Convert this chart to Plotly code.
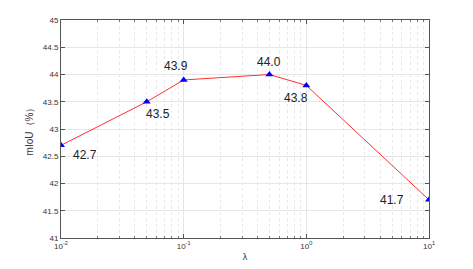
import math
import plotly.graph_objects as go

# lambda values and mIoU (%)
lam = [0.01, 0.05, 0.1, 0.5, 1, 10]
miou = [42.7, 43.5, 43.9, 44.0, 43.8, 41.7]
labels = ["42.7", "43.5", "43.9", "44.0", "43.8", "41.7"]
xtick_vals = [0.01, 0.1, 1, 10]
xtick_text = ["10<sup>-2</sup>", "10<sup>-1</sup>", "10<sup>0</sup>", "10<sup>1</sup>"]
# minor log gridlines 2..9 in each decade
minor_vals = [m * d for d in (0.01, 0.1, 1) for m in range(2, 10)]

# label offsets in px (x, y)
shifts = [(24, -10), (11, -12), (-8, 14), (0, 13), (-10, -13), (-37, 0)]

fig = go.Figure()
fig.add_trace(go.Scatter(
    x=lam, y=miou, mode="lines+markers",
    line=dict(color="#ff3030", width=1),
    marker=dict(symbol="triangle-up", size=7, color="#0000ff"),
    showlegend=False,
))

# annotations on a log axis take log10 positions
for x, y, t, (dx, dy) in zip(lam, miou, labels, shifts):
    fig.add_annotation(x=math.log10(x), y=y, xref="x", yref="y", text=t, showarrow=False,
                       xshift=dx, yshift=dy, font=dict(size=12, color="#222222"))

axis_common = dict(
    showline=True, linecolor="#555555", linewidth=1, mirror="ticks",
    ticks="inside", ticklen=4, tickcolor="#555555",
    gridcolor="#e6e6e6", gridwidth=1, zeroline=False,
    tickfont=dict(size=8, color="#333333"), automargin=False,
)

fig.update_xaxes(
    type="log", range=[-2, 1], tickvals=xtick_vals, ticktext=xtick_text,
    minor=dict(tickvals=minor_vals, showgrid=True, griddash="dot", gridcolor="#e8e8e8",
               ticks="inside", ticklen=2, tickcolor="#777777"),
    title=dict(text="λ", font=dict(size=9, color="#333333"), standoff=4),
    **axis_common,
)
fig.update_yaxes(
    range=[41, 45], dtick=0.5,
    title=dict(text="mIoU（%）", font=dict(size=10, color="#333333"), standoff=7),
    **axis_common,
)

fig.update_layout(
    width=473, height=269,
    margin=dict(l=53, r=52, t=12, b=39),
    paper_bgcolor="white", plot_bgcolor="white",
    font=dict(family="Liberation Sans, Arial, sans-serif"),
)

fig.write_html("out.html")
